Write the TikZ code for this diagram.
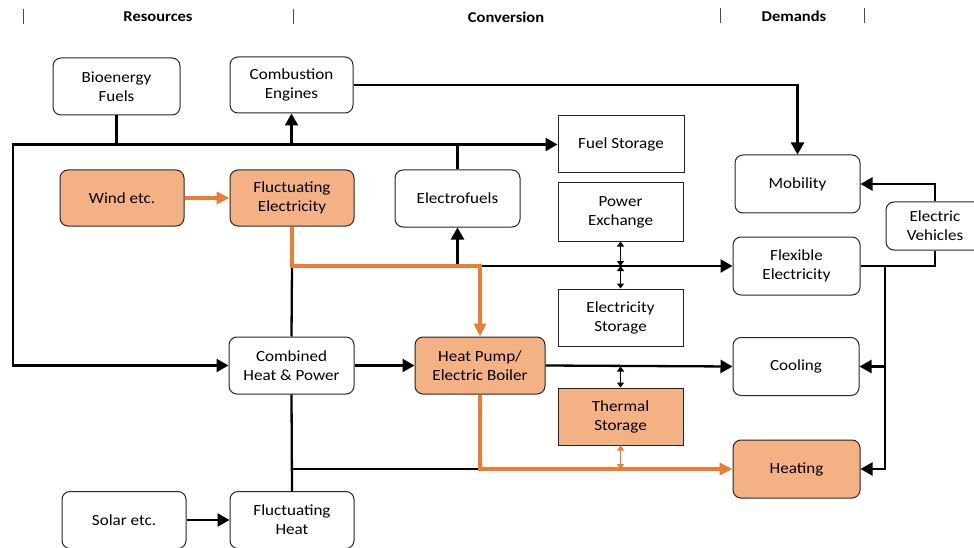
\documentclass[tikz,border=0pt]{standalone}
\usepackage{fontspec}
\setmainfont[FakeStretch=1.1]{Carlito}
\usetikzlibrary{arrows.meta}
\definecolor{ofill}{HTML}{F4B183}
\definecolor{oline}{HTML}{ED7D31}
\tikzset{
  box/.style={draw=black!85, line width=1pt, rounded corners=8pt, minimum width=125pt, minimum height=57pt, inner sep=0pt, align=center, font=\fontsize{15.5}{19}\selectfont, fill=white},
  sbox/.style={box, rounded corners=0pt},
  obox/.style={fill=ofill},
  hdr/.style={font=\fontsize{15}{17}\selectfont\bfseries},
  ln/.style={draw=black, line width=2.3pt},
  oln/.style={draw=oline, line width=3.3pt},
  tip/.style={-{Triangle[length=12pt,width=13pt]}},
  otip/.style={-{Triangle[length=13pt,width=12pt]}},
  dbl/.style={draw=black, line width=1.6pt, {Triangle[length=5pt,width=7pt]}-{Triangle[length=5pt,width=7pt]}},
  odbl/.style={draw=oline, line width=1.8pt, {Triangle[length=5pt,width=7pt]}-{Triangle[length=5pt,width=7pt]}},
  bar/.style={draw=black!70, line width=1pt}
}
\begin{document}
\begin{tikzpicture}[x=1pt,y=-1pt]
\useasboundingbox (0,0) rectangle (974,548);
\clip (0,0) rectangle (974,548);
% headers
\coordinate (b1t) at (23,9); \coordinate (b1b) at (23,24);
\coordinate (b2t) at (293,9); \coordinate (b2b) at (293,24);
\coordinate (b3t) at (720,8); \coordinate (b3b) at (720,23);
\coordinate (b4t) at (864,8); \coordinate (b4b) at (864,23);
\draw[bar] (b1t) -- (b1b);
\draw[bar] (b2t) -- (b2b);
\draw[bar] (b3t) -- (b3b);
\draw[bar] (b4t) -- (b4b);
\node[hdr] (hres) at (158,17) {Resources};
\node[hdr] (hcon) at (506,17) {Conversion};
\node[hdr] (hdem) at (794,16) {Demands};
% nodes
\node[box, minimum width=127pt] (bio) at (116.5,86.5) {Bioenergy\\Fuels};
\node[box, minimum width=123pt, minimum height=56pt] (comb) at (291.5,85) {Combustion\\Engines};
\node[box, obox, minimum width=124pt, minimum height=56pt] (wind) at (122,198) {Wind etc.};
\node[box, obox, minimum width=124pt, minimum height=56pt] (fe) at (292,198) {Fluctuating\\Electricity};
\node[sbox, minimum width=126pt] (fuel) at (621,144.5) {Fuel Storage};
\node[box] (efuel) at (457.5,198.5) {Electrofuels};
\node[sbox, minimum height=58pt] (pex) at (620.5,212) {Power\\Exchange};
\node[sbox] (estor) at (620.5,317.5) {Electricity\\Storage};
\node[sbox, obox] (tstor) at (620.5,416.5) {Thermal\\Storage};
\node[box, minimum height=58pt] (mob) at (797.5,184) {Mobility};
\node[box, minimum width=127pt, minimum height=58pt] (flex) at (796.5,266) {Flexible\\Electricity};
\node[box, minimum width=98pt, minimum height=48pt] (ev) at (935,226) {Electric\\Vehicles};
\node[box, minimum width=126pt, minimum height=58pt] (cool) at (796,366.5) {Cooling};
\node[box, obox, minimum width=127pt, minimum height=58pt] (heat) at (796.5,469) {Heating};
\node[box] (chp) at (291.5,365.5) {Combined\\Heat \& Power};
\node[box, obox, minimum width=130pt] (hp) at (480,365.5) {Heat Pump/\\Electric Boiler};
\node[box, minimum width=124pt] (solar) at (124,520) {Solar etc.};
\node[box, minimum width=124pt] (fheat) at (292,520) {Fluctuating\\Heat};
% fuel bus
\coordinate (bL) at (13,144.5);
\draw[ln, tip] (bio.south) |- (fuel.west);
\draw[ln, tip] (bio.south |- fuel.west) -- (bL) |- (chp.west);
\draw[ln, tip] (comb.south |- fuel.west) -- (comb.south);
\draw[ln] (efuel.north) -- (efuel.north |- fuel.west);
\draw[ln, tip] (comb.east) -| (mob.north);
% electricity bus
\draw[ln] (fe.south |- flex.west) -- (chp.north);
\draw[ln, tip] (hp.north |- flex.west) -- (flex.west);
\draw[ln, tip] (efuel.south |- flex.west) -- (efuel.south);
\draw[dbl] (pex.south) -- (pex.south |- flex.west);
\draw[dbl] (pex.south |- flex.west) -- (estor.north);
\draw[oln, otip] (wind) -- (fe);
\draw[oln, otip] (fe.south) |- (hp.north |- flex.west) -- (hp.north);
% heat
\draw[ln, tip] (chp.east) -- (hp.west);
\draw[ln, tip] (hp.east) -- (cool.west);
\draw[dbl] (tstor.north |- cool.west) -- (tstor.north);
\draw[ln] (chp.south) -- (fheat.north);
\draw[ln] (chp.south |- heat.west) -- (hp.south |- heat.west);
\draw[oln, otip] (hp.south) |- (heat.west);
\draw[odbl] (tstor.south) -- (tstor.south |- heat.west);
\draw[ln, tip] (solar.east) -- (fheat.west);
% demand side
\coordinate (vb) at (885,266);
\draw[ln] (flex.east) -- (vb);
\draw[ln, tip] (vb) |- (cool.east);
\draw[ln, tip] (vb) |- (heat.east);
\draw[ln] (vb) -| (ev.south);
\draw[ln, tip] (ev.north) |- (mob.east);
\end{tikzpicture}
\end{document}
